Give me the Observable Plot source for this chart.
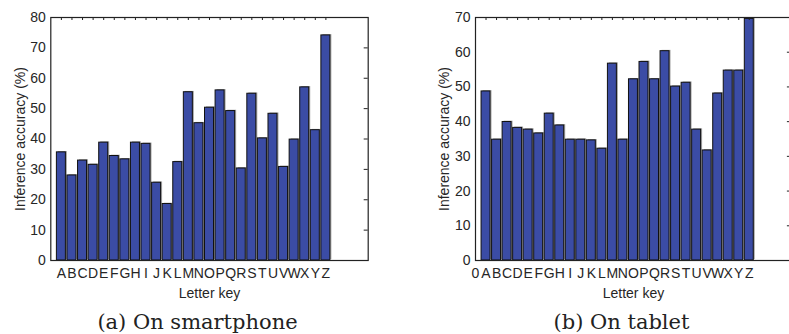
<!DOCTYPE html>
<html><head><meta charset="utf-8">
<script src="https://cdn.jsdelivr.net/npm/d3@7"></script>
<script src="https://cdn.jsdelivr.net/npm/@observablehq/plot@0.6"></script>
<style>
html,body{margin:0;padding:0;background:#fff;overflow:hidden;width:789px;height:334px;}
#wrap{position:relative;width:789px;height:334px;overflow:hidden;}
.panel{position:absolute;top:0;}
.panel svg{max-width:none !important;}
.cap{position:absolute;font-family:"DejaVu Serif",serif;font-size:21px;line-height:21px;color:#222;white-space:nowrap;transform:translate(-50%,-50%);}
</style></head><body>
<div id="wrap">
 <div class="panel" id="a" style="left:0px;width:394px"></div>
 <div class="panel" id="b" style="left:394px;width:400px"></div>
 <div class="cap" style="left:197.5px;top:322px">(a) On smartphone</div>
 <div class="cap" style="left:621.5px;top:322px">(b) On tablet</div>
</div>
<script>
const letters = ["A","B","C","D","E","F","G","H","I","J","K","L","M","N","O","P","Q","R","S","T","U","V","W","X","Y","Z"];
const smartphone = [35.6,28.0,32.9,31.5,38.8,34.4,33.3,38.8,38.4,25.6,18.6,32.4,55.4,45.2,50.3,56.0,49.2,30.3,54.9,40.2,48.3,30.8,39.8,57.0,42.9,74.1];
const tablet = [48.7,34.8,39.9,38.2,37.7,36.6,42.3,38.9,34.8,34.8,34.6,32.2,56.7,34.8,52.2,57.2,52.2,60.3,50.1,51.2,37.7,31.7,48.1,54.7,54.7,69.6];
const tickLabelsA = letters;              // at positions 1..26
const tickLabelsB = ["0", ...letters];    // at positions 0..26
const yTicksA = [0,10,20,30,40,50,60,70,80];
const yTicksB = [0,10,20,30,40,50,60,70];
const yLabel = "Inference accuracy (%)";
const xLabel = "Letter key";

function chart({values, ymax, yTicks, labels, firstPos, width, marginLeft, marginRight}) {
  const data = values.map((v, i) => ({pos: i + 1, v}));
  const lab = labels.map((t, i) => ({pos: firstPos + i, t}));
  const labMap = new Map(lab.map(d => [d.pos, d.t]));
  const xt = lab.map(d => d.pos);
  const H = 300, top = 17, bottom = 260;
  const plotW = width - marginLeft - marginRight;
  const plotH = bottom - top;
  const half = 0.425;
  return Plot.plot({
    width, height: H, marginLeft, marginRight, marginTop: top, marginBottom: H - bottom,
    style: {fontFamily: "'Liberation Sans', Arial, sans-serif", fontSize: "14px", color: "#262626", background: "transparent", overflow: "visible", maxWidth: "none"},
    x: {domain: [0, 30]},
    y: {domain: [0, ymax]},
    marks: [
      Plot.rectY(data, {x1: d => d.pos - half, x2: d => d.pos + half, y: "v", fill: "#a3a3a3", dx: 1.5, dy: -0.8}),
      Plot.rectY(data, {x1: d => d.pos - half, x2: d => d.pos + half, y: "v", fill: "#3b4ca5", stroke: "#111", strokeWidth: 1}),
      Plot.tickX(xt, {x: d => d, insetBottom: plotH - 3, stroke: "#222"}),
      Plot.tickY(yTicks, {y: d => d, insetLeft: plotW - 4, stroke: "#222"}),
      Plot.frame({stroke: "#222", strokeWidth: 1.2}),
      Plot.axisY({ticks: yTicks, tickSize: 0, tickPadding: 5, label: yLabel, labelAnchor: "center", labelOffset: 36, labelArrow: "none"}),
      Plot.axisX({ticks: xt, tickFormat: d => labMap.get(d), tickSize: 0, tickPadding: 8, label: xLabel, labelAnchor: "center", labelOffset: 37, labelArrow: "none"})
    ]
  });
}

document.getElementById("a").append(chart({values: smartphone, ymax: 80, yTicks: yTicksA, labels: tickLabelsA, firstPos: 1, width: 394, marginLeft: 50.3, marginRight: 26.3}));
document.getElementById("b").append(chart({values: tablet, ymax: 70, yTicks: yTicksB, labels: tickLabelsB, firstPos: 0, width: 400, marginLeft: 81, marginRight: 3.1}));
</script>
</body></html>
